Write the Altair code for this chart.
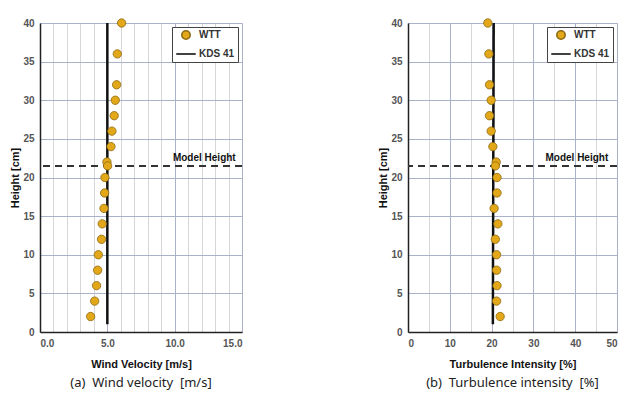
import altair as alt
import pandas as pd

# ---- data ----
heights = [40, 36, 32, 30, 28, 26, 24, 22, 21.5, 20, 18, 16, 14, 12, 10, 8, 6, 4, 2]
wtt_velocity = [6.06, 5.74, 5.69, 5.59, 5.51, 5.34, 5.27, 4.97, 5.02, 4.82, 4.80, 4.75,
                4.62, 4.57, 4.33, 4.28, 4.20, 4.06, 3.76]
wtt_ti = [19.1, 19.35, 19.5, 19.9, 19.5, 19.9, 20.3, 21.1, 20.9, 21.3, 21.3, 20.6,
          21.5, 20.9, 21.2, 21.2, 21.3, 21.2, 22.05]
kds_height = [1, 40]
kds_velocity = [5.0, 5.0]
kds_ti = [20.3, 20.5]
model_height = [21.5]
series_names = ["WTT", "KDS 41"]

GOLD = "#E2A81A"
GOLD_EDGE = "#8C6A12"
FONT = "Liberation Sans"
NB = "\u00a0"


def panel(xvals, kdsvals, xtitle, xdomain, xticks, major_step, label_step, label_fmt,
          text_x, caption, width):
    wtt = pd.DataFrame({"x": xvals, "h": heights, "series": "WTT"})
    kds = pd.DataFrame({"x": kdsvals, "h": kds_height, "series": "KDS 41"})
    mh = pd.DataFrame({"h": model_height, "x": [text_x], "label": ["Model Height"]})

    xaxis = alt.Axis(
        values=xticks,
        labelExpr=f"datum.value % {label_step} === 0 ? format(datum.value, '{label_fmt}') : ''",
        labelOverlap=False,
        grid=True,
        gridColor={"condition": {"test": f"datum.value % {major_step} === 0", "value": "#A9B2C8"},
                   "value": "#D6D6D6"},
        gridWidth=1,
        ticks=False,
        domainColor="#222222",
        domainWidth=1.5,
        labelFont=FONT, labelFontSize=10, labelFontWeight="bold", labelColor="#555555",
        labelPadding=6,
        title=xtitle, titleFont=FONT, titleFontSize=11, titleFontWeight="bold",
        titleColor="#111111", titlePadding=10,
    )
    yaxis = alt.Axis(
        values=list(range(0, 41, 5)),
        labelOverlap=False,
        grid=True, gridColor="#A9B2C8", gridWidth=1,
        ticks=False,
        domainColor="#222222", domainWidth=1.5,
        labelFont=FONT, labelFontSize=10, labelFontWeight="bold", labelColor="#555555",
        labelPadding=6,
        title="Height [cm]", titleFont=FONT, titleFontSize=11, titleFontWeight="bold",
        titleColor="#111111", titlePadding=2,
    )
    xs = alt.Scale(domain=xdomain, nice=False, zero=False)
    ys = alt.Scale(domain=[0, 40], nice=False)
    X = alt.X("x:Q", scale=xs, axis=xaxis)
    Y = alt.Y("h:Q", scale=ys, axis=yaxis)

    legend = alt.Legend(
        title=None, orient="top-right", offset=4, padding=3,
        strokeColor="#444444", fillColor="white",
        labelFont=FONT, labelFontSize=10, labelFontWeight="bold", labelColor="#333333",
        rowPadding=0, symbolStrokeWidth=1.6, labelOffset=2,
    )
    sc_fill = alt.Scale(domain=series_names, range=[GOLD, "#111111"])
    sc_stroke = alt.Scale(domain=series_names, range=[GOLD_EDGE, "#111111"])
    sc_shape = alt.Scale(domain=series_names, range=["circle", "stroke"])
    sc_size = alt.Scale(domain=series_names, range=[70, 380])

    rule = alt.Chart(mh).mark_rule(strokeDash=[7, 5], strokeWidth=2, color="#333333").encode(
        y=Y
    )
    line = alt.Chart(kds).mark_line(strokeWidth=2.5).encode(
        x=X, y=Y,
        order="h:Q",
        stroke=alt.Stroke("series:N", scale=sc_stroke, legend=legend),
    )
    txt = alt.Chart(mh).mark_text(
        font=FONT, fontSize=10, fontWeight="bold", color="#111111", baseline="bottom", dy=-3
    ).encode(x=X, y=Y, text="label:N")
    pts = alt.Chart(wtt).mark_point(filled=True, opacity=1, strokeWidth=0.8).encode(
        x=X, y=Y,
        fill=alt.Fill("series:N", scale=sc_fill, legend=legend),
        stroke=alt.Stroke("series:N", scale=sc_stroke, legend=legend),
        shape=alt.Shape("series:N", scale=sc_shape, legend=legend),
        size=alt.Size("series:N", scale=sc_size, legend=legend),
    )
    return alt.layer(rule, line, pts, txt).properties(
        width=width, height=309,
        title=alt.TitleParams(caption, orient="bottom", font="Noto Sans", fontSize=13,
                              fontWeight="normal", color="#222222", offset=8),
    )


left = panel(wtt_velocity, kds_velocity, "Wind Velocity [m/s]", [0, 15],
             list(range(0, 16)), 5, 5, ".1f", 12.2,
             f"(a){NB}{NB}Wind{NB}velocity{NB}{NB}[m/s]", 202)
right = panel(wtt_ti, kds_ti, "Turbulence Intensity [%]", [0, 50],
              list(range(0, 51, 5)), 10, 10, "d", 40.4,
              f"(b){NB}{NB}Turbulence{NB}intensity{NB}{NB}[%]", 209)

chart = alt.hconcat(left, right, spacing=133).resolve_scale(
    x="independent", fill="independent", stroke="independent", shape="independent",
    size="independent"
).resolve_legend(
    fill="independent", stroke="independent", shape="independent", size="independent"
).configure_view(
    stroke="#333A4D", strokeWidth=1.5
).configure(
    padding={"left": 9, "top": 16, "right": 5, "bottom": 5},
    background="white",
)

chart.save("out.html", embed_options={"renderer": "svg", "actions": False})
